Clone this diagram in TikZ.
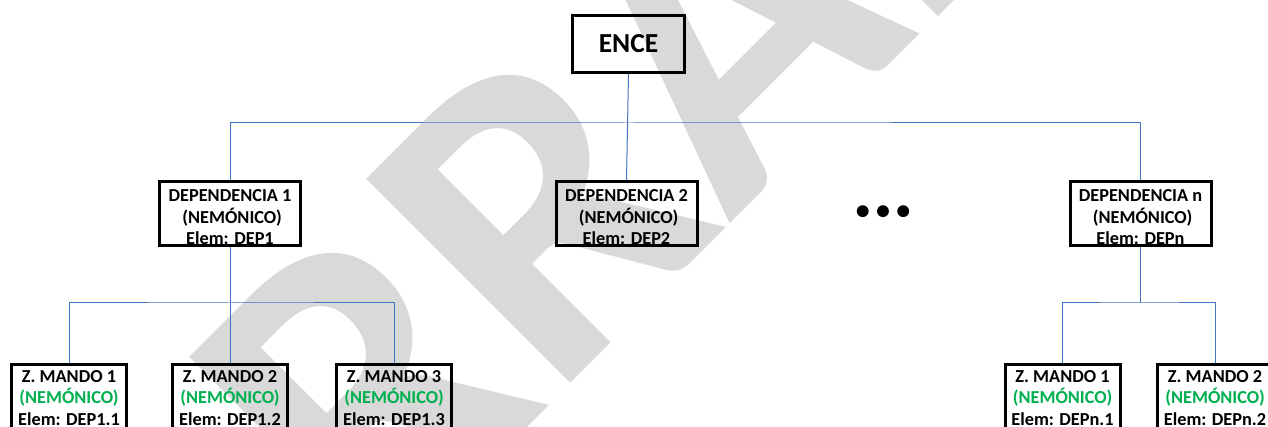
\documentclass[tikz,border=0pt]{standalone}
\usepackage{fontspec}
\setmainfont{Carlito}
\definecolor{linea}{HTML}{4472C4}
\definecolor{nemonico}{HTML}{00B050}
\definecolor{marca}{HTML}{D9D9D9}
\tikzset{
  caja/.style={draw, line width=3pt, inner sep=0pt, align=center,
    font=\bfseries\fontsize{18.3}{21.5}\selectfont},
  dependencia/.style={caja, minimum width=141pt, text height=63.5pt, text depth=0.5pt},
  zona/.style={caja, minimum width=115pt, text height=60.5pt, text depth=10pt},
  enlace/.style={draw=linea, line width=1pt},
}
\begin{document}
\begin{tikzpicture}[x=1pt,y=-1pt]
	\useasboundingbox (0,0) rectangle (1268,427);
	\node[text=marca, rotate=45, inner sep=0pt,
	  font=\bfseries\fontsize{445}{445}\selectfont] (marca) at (645,105) {BORRADOR};%marca de agua

	\node[draw, line width=3pt, minimum width=112pt, minimum height=57pt,
	  font=\bfseries\fontsize{27.5}{30}\selectfont] (ence) at (628.5,44) {ENCE};

	\node[dependencia] (dep1) at (230,213.5) {DEPENDENCIA 1\\\ (NEMÓNICO)\\Elem: DEP1};
	\node[dependencia] (dep2) at (626.5,213.5) {DEPENDENCIA 2\\\ (NEMÓNICO)\\Elem: DEP2};
	\node[dependencia] (depn) at (1140.5,213.5) {DEPENDENCIA n\\\ (NEMÓNICO)\\Elem: DEPn};
	\node[font=\bfseries\fontsize{28}{30}\selectfont] (puntos) at (883,213) {\textbullet\ \textbullet\ \textbullet};

	\node[zona] (zm11) at (69,399.75) {Z. MANDO 1\\\textcolor{nemonico}{(NEMÓNICO)}\\Elem: DEP1.1};
	\node[zona] (zm12) at (230,399.75) {Z. MANDO 2\\\textcolor{nemonico}{(NEMÓNICO)}\\Elem: DEP1.2};
	\node[zona] (zm13) at (394,399.75) {Z. MANDO 3\\\textcolor{nemonico}{(NEMÓNICO)}\\Elem: DEP1.3};
	\node[zona] (zmn1) at (1062.5,399.75) {Z. MANDO 1\\\textcolor{nemonico}{(NEMÓNICO)}\\Elem: DEPn.1};
	\node[zona] (zmn2) at (1215,399.75) {Z. MANDO 2\\\textcolor{nemonico}{(NEMÓNICO)}\\Elem: DEPn.2};

	\coordinate (bus) at (628.5,123);%linea principal
	\coordinate (bus1) at (230,303);
	\coordinate (busn) at (1140.5,303);

	\draw[enlace] (ence.south) -- (dep2.north);
	\draw[enlace] (dep1.north) |- (bus) -| (depn.north);
	\draw[enlace] (dep1.south) -- (zm12.north);
	\draw[enlace] (zm11.north) |- (bus1) -| (zm13.north);
	\draw[enlace] (depn.south) -- (busn);
	\draw[enlace] (zmn1.north) |- (busn) -| (zmn2.north);
\end{tikzpicture}
\end{document}
